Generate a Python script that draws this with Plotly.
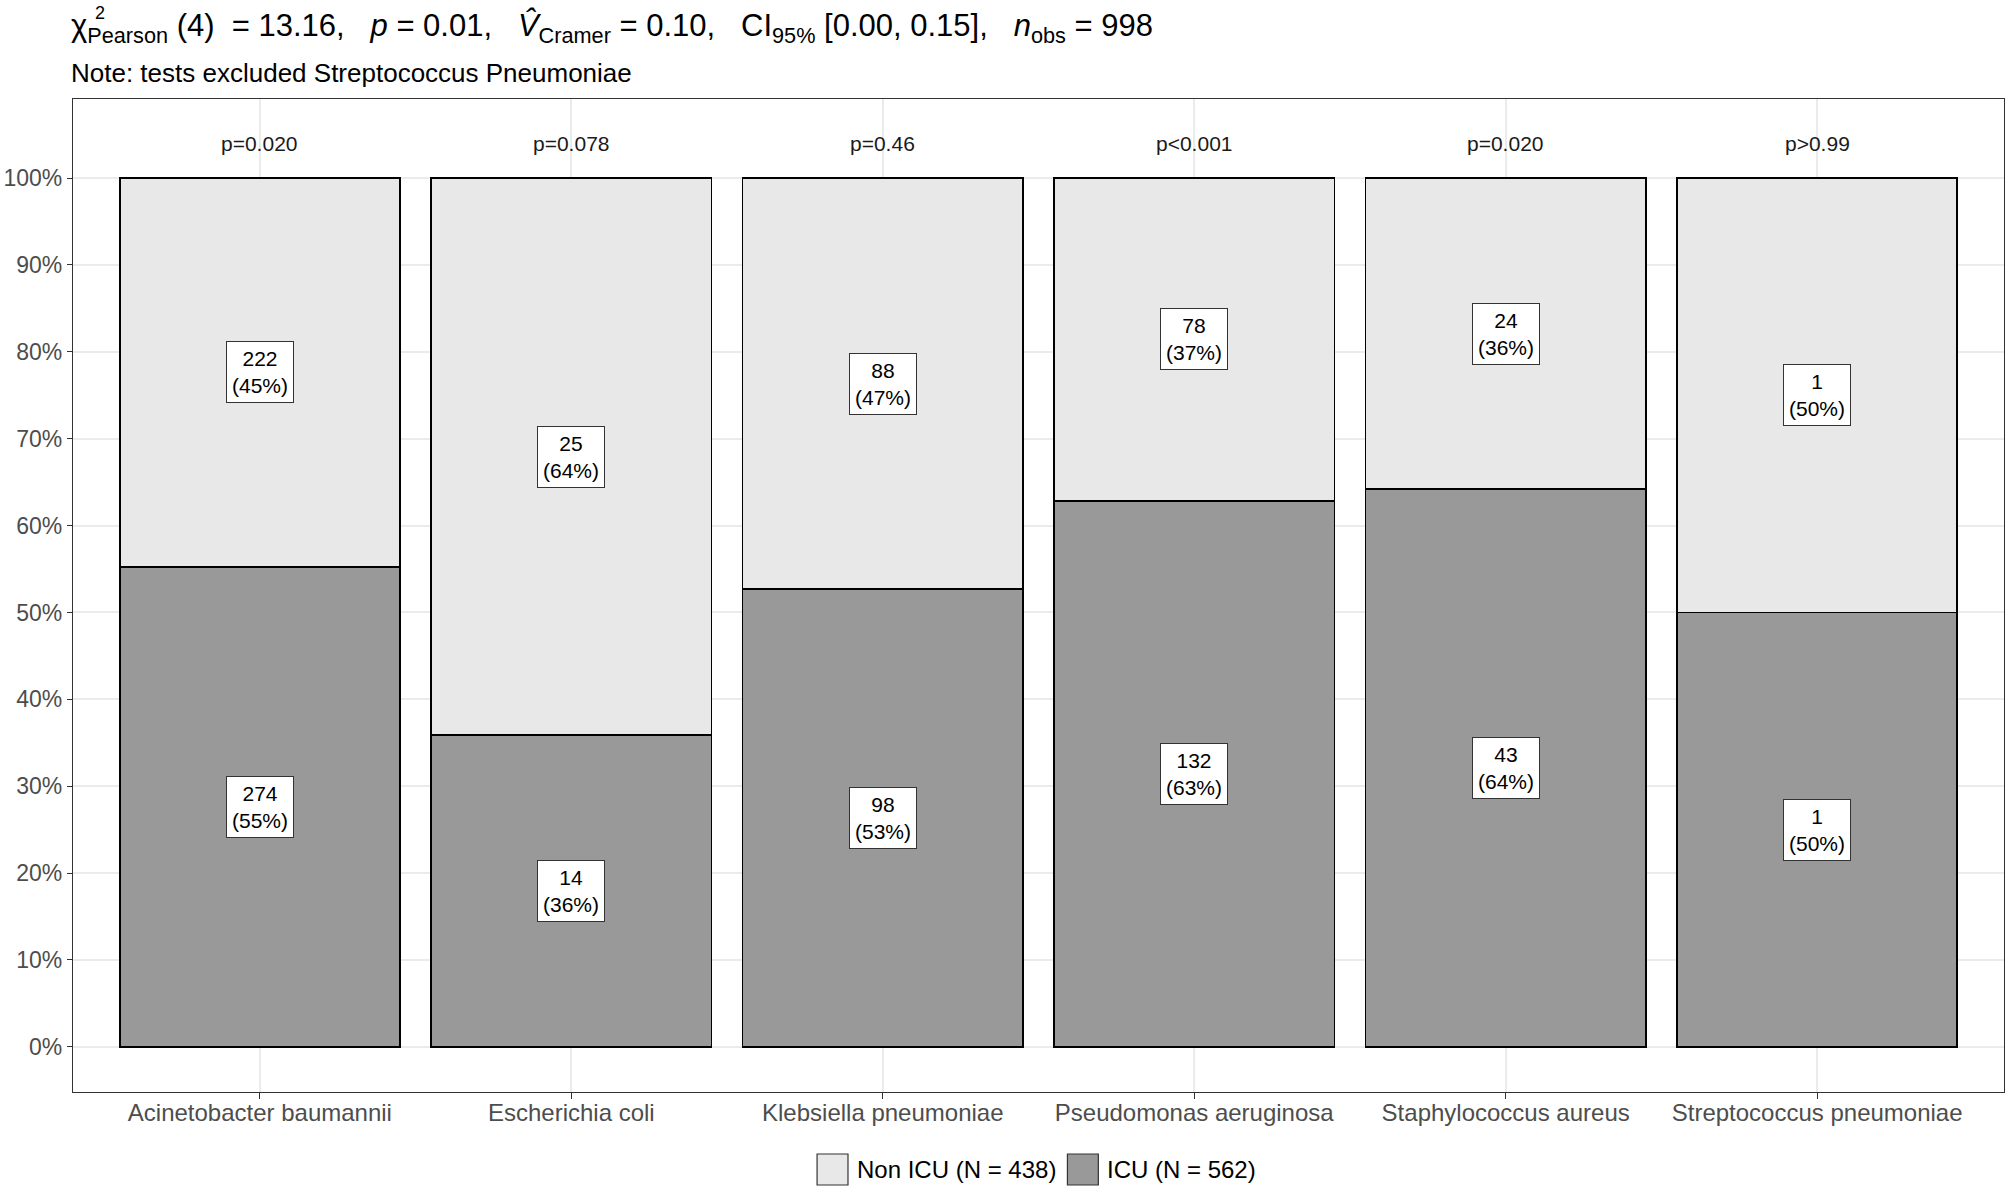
import plotly.graph_objects as go

# data
categories = [
    "Acinetobacter baumannii",
    "Escherichia coli",
    "Klebsiella pneumoniae",
    "Pseudomonas aeruginosa",
    "Staphylococcus aureus",
    "Streptococcus pneumoniae",
]
icu_n = [274, 14, 98, 132, 43, 1]
non_icu_n = [222, 25, 88, 78, 24, 1]
p_labels = ["p=0.020", "p=0.078", "p=0.46", "p<0.001", "p=0.020", "p>0.99"]
y_ticks = [0, 0.1, 0.2, 0.3, 0.4, 0.5, 0.6, 0.7, 0.8, 0.9, 1.0]
legend_names = ["Non ICU (N = 438)", "ICU (N = 562)"]

# canvas
W, H = 2008, 1191
L, R, T, B = 69, 3, 99, 99
FONT = "Liberation Sans, Arial, sans-serif"
ICU_COL = "#999999"
NON_COL = "#E8E8E8"


def px2x(px):
    return (px - L) / (W - L - R)


def py2y(py):
    return (H - B - py) / (H - T - B)


totals = [a + b for a, b in zip(icu_n, non_icu_n)]
icu_frac = [a / t for a, t in zip(icu_n, totals)]
non_frac = [b / t for b, t in zip(non_icu_n, totals)]

fig = go.Figure()
fig.add_trace(go.Bar(
    x=categories, y=icu_frac, name=legend_names[1], width=0.9,
    marker=dict(color=ICU_COL, line=dict(color="black", width=1.6)),
    showlegend=False,
))
fig.add_trace(go.Bar(
    x=categories, y=non_frac, name=legend_names[0], width=0.9,
    marker=dict(color=NON_COL, line=dict(color="black", width=1.6)),
    showlegend=False,
))

annotations = []
# count / percent labels in the middle of each segment
for c, a, b, fa, fb in zip(categories, icu_n, non_icu_n, icu_frac, non_frac):
    for n, frac, mid in ((a, fa, fa / 2), (b, fb, fa + fb / 2)):
        annotations.append(dict(
            x=c, y=mid, xref="x", yref="y",
            text=f"{n}<br>({round(frac * 100)}%)",
            showarrow=False, bgcolor="white", bordercolor="#333333",
            borderwidth=1, borderpad=5,
            font=dict(family=FONT, size=21, color="black"),
        ))

# p-values above bars
for c, p in zip(categories, p_labels):
    annotations.append(dict(
        x=c, y=1.04, xref="x", yref="y", text=p.replace("<", "&lt;"),
        showarrow=False, font=dict(family=FONT, size=21, color="#1a1a1a"),
    ))

# subtitle with statistics
nb = "\u00a0"
gap = nb * 3
stats = (
    f"\u03c7<sub>Pearson</sub>{nb}(4){nb}{nb}={nb}13.16,{gap}<i>p</i>{nb}={nb}0.01,{gap}"
    f"<i>V\u0302</i><sub>Cramer</sub>{nb}={nb}0.10,{gap}CI<sub>95%</sub>{nb}[0.00,{nb}0.15],{gap}"
    f"<i>n</i><sub>obs</sub>{nb}={nb}998"
)
annotations.append(dict(
    x=px2x(65), y=py2y(28), xref="paper", yref="paper", xanchor="left",
    yanchor="middle", text=stats, showarrow=False,
    font=dict(family=FONT, size=31, color="black"),
))
annotations.append(dict(
    x=px2x(89), y=py2y(13), xref="paper", yref="paper", xanchor="left",
    yanchor="middle", text="2", showarrow=False,
    font=dict(family=FONT, size=18, color="black"),
))
annotations.append(dict(
    x=px2x(65), y=py2y(73), xref="paper", yref="paper", xanchor="left",
    yanchor="middle", text="Note: tests excluded Streptococcus Pneumoniae",
    showarrow=False, font=dict(family=FONT, size=26, color="black"),
))

# legend drawn by hand so the keys are full size
shapes = []
keys = [(815, NON_COL, legend_names[0]), (1066, ICU_COL, legend_names[1])]
for x0, col, name in keys:
    shapes.append(dict(
        type="rect", xref="paper", yref="paper",
        x0=px2x(x0), x1=px2x(x0 + 31), y0=py2y(1185), y1=py2y(1154),
        fillcolor=col, line=dict(color="#333333", width=1.2),
    ))
    annotations.append(dict(
        x=px2x(x0 + 38), y=py2y(1169.5), xref="paper", yref="paper",
        xanchor="left", yanchor="middle", text=name, showarrow=False,
        font=dict(family=FONT, size=24, color="black"),
    ))

fig.update_layout(
    width=W, height=H,
    margin=dict(l=L, r=R, t=T, b=B),
    barmode="stack", bargap=0.1,
    plot_bgcolor="white", paper_bgcolor="white",
    font=dict(family=FONT, color="#4D4D4D"),
    annotations=annotations, shapes=shapes,
    showlegend=False,
)
fig.update_xaxes(
    range=[-0.6, 5.6], showgrid=True, gridcolor="#EBEBEB", gridwidth=1.5,
    showline=True, mirror=True, linecolor="#333333", linewidth=1.2,
    ticks="outside", ticklen=6, tickcolor="#333333", tickwidth=1.2,
    ticklabelstandoff=-7,
    tickfont=dict(family=FONT, size=24, color="#4D4D4D"),
)
fig.update_yaxes(
    range=[-0.052, 1.091], tickvals=y_ticks, tickformat=".0%",
    showgrid=True, gridcolor="#EBEBEB", gridwidth=1.5, zeroline=False,
    showline=True, mirror=True, linecolor="#333333", linewidth=1.2,
    ticks="outside", ticklen=5, tickcolor="#333333", tickwidth=1.2,
    tickfont=dict(family=FONT, size=23, color="#4D4D4D"),
)

fig.write_html(
    "out.html",
    config={"displayModeBar": False},
    post_script="document.body.style.margin='0';",
)
